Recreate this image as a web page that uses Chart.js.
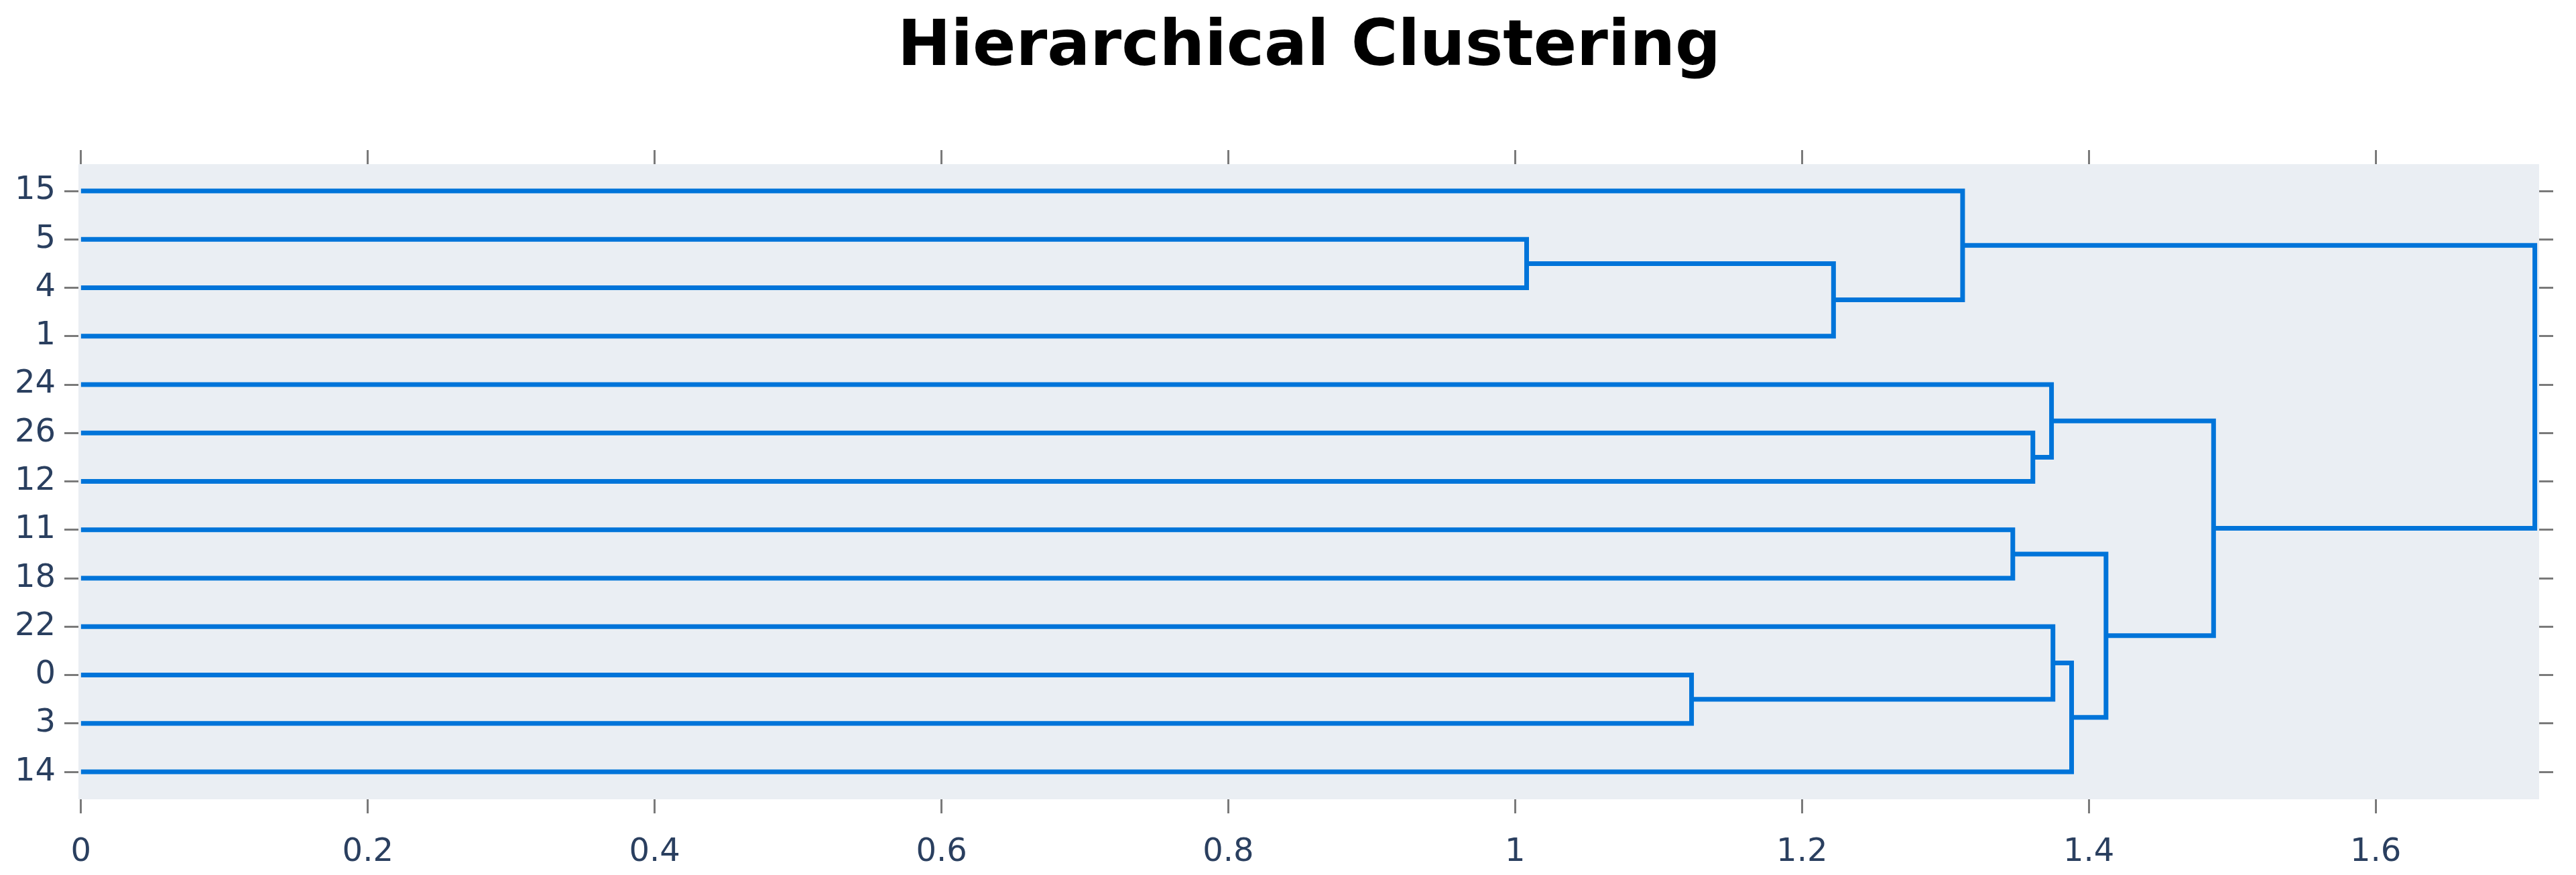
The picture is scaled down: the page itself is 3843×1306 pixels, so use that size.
<!DOCTYPE html>
<html>
<head>
<meta charset="utf-8">
<script src="https://cdn.jsdelivr.net/npm/chart.js@4.4.0/dist/chart.umd.min.js"></script>
<style>
  html, body { margin: 0; padding: 0; background: #fff; }
</style>
</head>
<body>
<canvas id="dendro" width="3843" height="1306"></canvas>
<script>
// leaves from top to bottom
const leafLabels = ['15', '5', '4', '1', '24', '26', '12', '11', '18', '22', '0', '3', '14'];
// merges: ids below 13 are leaves, 13 + k is the cluster made by merge k
const mergeLeft   = [1, 13, 0, 5, 4, 7, 10, 9, 20, 18, 17, 15];
const mergeRight  = [2, 3, 14, 6, 16, 8, 11, 19, 12, 21, 22, 23];
const mergeHeight = [1.008, 1.222, 1.312, 1.361, 1.374, 1.347, 1.123, 1.375, 1.388, 1.412, 1.487, 1.711];
const xTicks = [0, 0.2, 0.4, 0.6, 0.8, 1, 1.2, 1.4, 1.6];
const chartTitle = 'Hierarchical Clustering';

const lineColor = '#0074D9';
const tickFont = { family: 'DejaVu Sans', size: 48 };
const labelColor = '#2a3f5f';

// position / height of every node
const nodePos = leafLabels.map((_, i) => i);
const nodeHeight = leafLabels.map(() => 0);
mergeHeight.forEach((h, k) => {
  nodePos.push((nodePos[mergeLeft[k]] + nodePos[mergeRight[k]]) / 2);
  nodeHeight.push(h);
});

// one bracket per merge
const datasets = mergeHeight.map((h, k) => {
  const a = mergeLeft[k], b = mergeRight[k];
  return {
    data: [
      { x: nodeHeight[a], y: nodePos[a] },
      { x: h, y: nodePos[a] },
      { x: h, y: nodePos[b] },
      { x: nodeHeight[b], y: nodePos[b] }
    ],
    showLine: true,
    borderColor: lineColor,
    borderWidth: 7,
    pointRadius: 0,
    tension: 0,
    fill: false,
    borderJoinStyle: 'miter',
    borderCapStyle: 'butt'
  };
});

const plotBg = {
  id: 'plotBg',
  beforeDraw(chart) {
    const { ctx, chartArea: a } = chart;
    ctx.save();
    ctx.fillStyle = '#EAEEF3';
    ctx.fillRect(a.left, a.top, a.right - a.left, a.bottom - a.top);
    ctx.restore();
  },
  // title sits a bit right of the canvas centre, like the original
  afterDraw(chart) {
    const ctx = chart.ctx;
    ctx.save();
    ctx.font = 'bold 95px "DejaVu Sans"';
    ctx.fillStyle = '#000';
    ctx.textAlign = 'center';
    ctx.textBaseline = 'alphabetic';
    ctx.fillText(chartTitle, 1953, 97);
    ctx.restore();
  }
};

const tickGrid = {
  drawOnChartArea: false,
  drawTicks: true,
  tickLength: 21,
  tickColor: '#7a7a7a',
  tickWidth: 3
};

const xRange = { min: -0.0018, max: 1.714 };
const yRange = { min: -0.554, max: 12.567 };

new Chart(document.getElementById('dendro'), {
  type: 'scatter',
  data: { datasets },
  options: {
    responsive: false,
    devicePixelRatio: 1,
    animation: false,
    layout: { padding: { top: 223 } },
    plugins: {
      legend: { display: false },
      tooltip: { enabled: false },
      title: { display: false }
    },
    scales: {
      x: {
        type: 'linear', position: 'bottom', ...xRange,
        afterBuildTicks: s => { s.ticks = xTicks.map(v => ({ value: v })); },
        afterFit: s => { s.height = 113; },
        grid: tickGrid,
        border: { display: false },
        ticks: { font: tickFont, color: labelColor, padding: 30, maxRotation: 0, autoSkip: false, callback: v => String(v) }
      },
      x2: {
        type: 'linear', position: 'top', ...xRange,
        afterBuildTicks: s => { s.ticks = xTicks.map(v => ({ value: v })); },
        afterFit: s => { s.height = 22; },
        grid: tickGrid,
        border: { display: false },
        ticks: { display: false }
      },
      y: {
        type: 'linear', position: 'left', reverse: true, ...yRange,
        afterBuildTicks: s => { s.ticks = leafLabels.map((_, i) => ({ value: i })); },
        afterFit: s => { s.width = 117; },
        grid: tickGrid,
        border: { display: false },
        ticks: { font: tickFont, color: labelColor, padding: 13, autoSkip: false, callback: v => leafLabels[v] }
      },
      y2: {
        type: 'linear', position: 'right', reverse: true, ...yRange,
        afterBuildTicks: s => { s.ticks = leafLabels.map((_, i) => ({ value: i })); },
        afterFit: s => { s.width = 55; },
        grid: tickGrid,
        border: { display: false },
        ticks: { display: false }
      }
    }
  },
  plugins: [plotBg]
});
</script>
</body>
</html>
